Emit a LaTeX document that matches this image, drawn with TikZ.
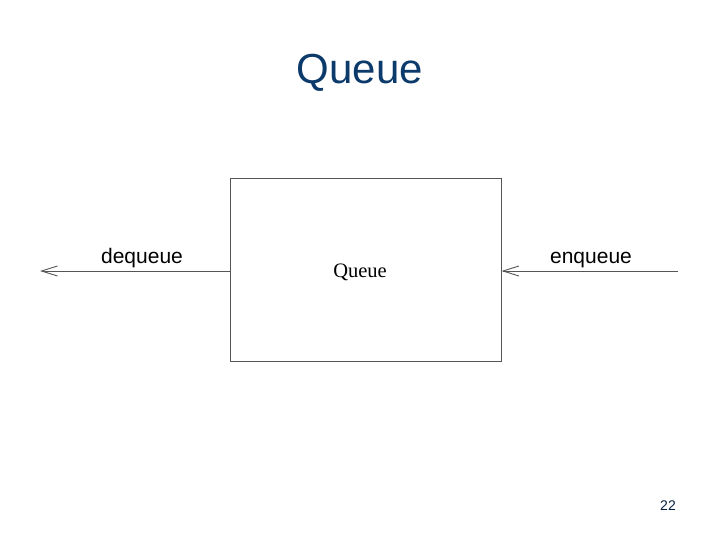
\documentclass[tikz,border=0pt]{standalone}
\usepackage{fontspec}
\setmainfont{Liberation Serif}
\newfontfamily\headfont{Liberation Sans}
\usetikzlibrary{arrows.meta, positioning}
\definecolor{titleblue}{HTML}{0B3A6B}
\definecolor{linegray}{HTML}{555555}

\tikzset{
  queuebox/.style={draw=linegray, line width=0.9pt, minimum width=271pt,
                   minimum height=183pt, inner sep=0pt},
  oplabel/.style={font=\headfont\fontsize{21}{24}\selectfont, anchor=base},
  flow/.style={draw=linegray, line width=0.9pt,
               -{Straight Barb[length=16pt, width=10pt, line width=0.9pt]}}
}

\begin{document}
\begin{tikzpicture}[x=1pt, y=-1pt]
        \useasboundingbox (0,0) rectangle (720,540);
        \node[font=\headfont\fontsize{42}{48}\selectfont, text=titleblue, anchor=base]
          (title) at (360,84) {Queue};
        \node[queuebox] (queue) at (365.5,269.5) {};
        \node[font=\fontsize{20.5}{24}\selectfont, anchor=base] (qlabel) at (360,277) {Queue};
        \coordinate (outend) at (40,271);
        \coordinate (inend) at (678,271);
        \draw[flow] (queue.west |- outend) -- (outend);
        \draw[flow] (inend) -- (queue.east |- inend);
        \node[oplabel] (deq) at (142,263) {dequeue};
        \node[oplabel] (enq) at (591,263) {enqueue};
        \node[font=\headfont\fontsize{14}{16}\selectfont, text=titleblue!60!black, anchor=base]
          (page) at (668,510) {22};
      \end{tikzpicture}
\end{document}
